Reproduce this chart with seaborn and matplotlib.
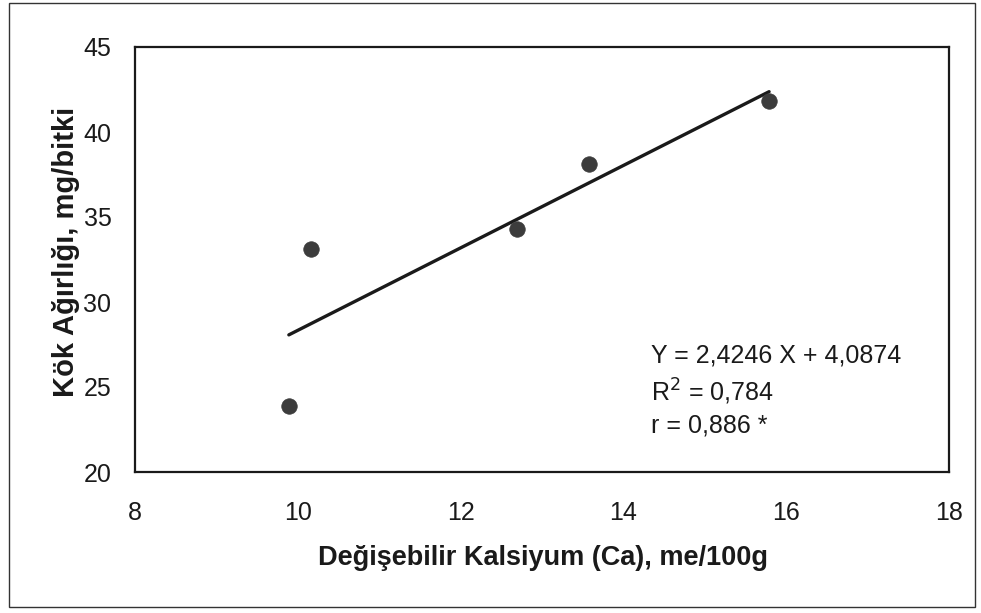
import matplotlib
matplotlib.use("Agg")
import matplotlib.pyplot as plt
from matplotlib.patches import Rectangle
import numpy as np
import pandas as pd
import seaborn as sns

# Data
ca_values = [9.89, 10.16, 12.69, 13.58, 15.79]
root_weight = [23.9, 33.1, 34.3, 38.1, 41.8]
slope = 2.4246
intercept = 4.0874
x_ticks = [8, 10, 12, 14, 16, 18]
y_ticks = [20, 25, 30, 35, 40, 45]

sns.set_theme(style="white")
plt.rcParams['font.family'] = ['Liberation Sans', 'DejaVu Sans']

W, H = 981, 613
fig = plt.figure(figsize=(W / 100, H / 100), dpi=100)
L, R, T, B = 135, 949, 47, 472
ax = fig.add_axes([L / W, 1 - B / H, (R - L) / W, (B - T) / H])

df = pd.DataFrame({"x": ca_values, "y": root_weight})
line_x = np.array([min(ca_values), max(ca_values)])
line_df = pd.DataFrame({"x": line_x, "y": slope * line_x + intercept})

sns.lineplot(data=line_df, x="x", y="y", ax=ax, color="#1a1a1a", linewidth=2.4)
sns.scatterplot(data=df, x="x", y="y", ax=ax, color="#3c3c3c", s=125,
                edgecolor="#3c3c3c", linewidth=0.5, zorder=3)

ax.set_xlim(8, 18)
ax.set_ylim(20, 45)
ax.set_xticks(x_ticks)
ax.set_yticks(y_ticks)
ax.tick_params(axis="x", labelsize=18, length=0, pad=21, colors="#1a1a1a")
ax.tick_params(axis="y", labelsize=18, length=0, pad=17, colors="#1a1a1a")
for s in ax.spines.values():
    s.set_color("#1a1a1a")
    s.set_linewidth(1.6)

ax.set_xlabel("Değişebilir Kalsiyum (Ca), me/100g", fontsize=19.5, fontweight="bold",
              color="#1a1a1a")
ax.set_ylabel("Kök Ağırlığı, mg/bitki", fontsize=21, fontweight="bold",
              color="#1a1a1a")
ax.xaxis.set_label_coords((543 - L) / (R - L), (B - 558) / (B - T))
ax.xaxis.label.set_va("center")
ax.yaxis.set_label_coords((66 - L) / (R - L), (B - 252) / (B - T))
ax.yaxis.label.set_va("center")

tx = 8 + (651 - L) / (R - L) * 10
for txt, py in [("Y = 2,4246 X + 4,0874", 355), ("R$^2$ = 0,784", 392), ("r = 0,886 *", 425)]:
    ax.text(tx, 45 - (py - T) / (B - T) * 25, txt, fontsize=18, color="#1a1a1a",
            ha="left", va="center")

fig.patches.append(Rectangle((9 / W, 1 - 607 / H), (975 - 9) / W, (607 - 3) / H,
                             transform=fig.transFigure, fill=False,
                             edgecolor="#333333", linewidth=1.0))

fig.savefig("out.png", dpi=100)
